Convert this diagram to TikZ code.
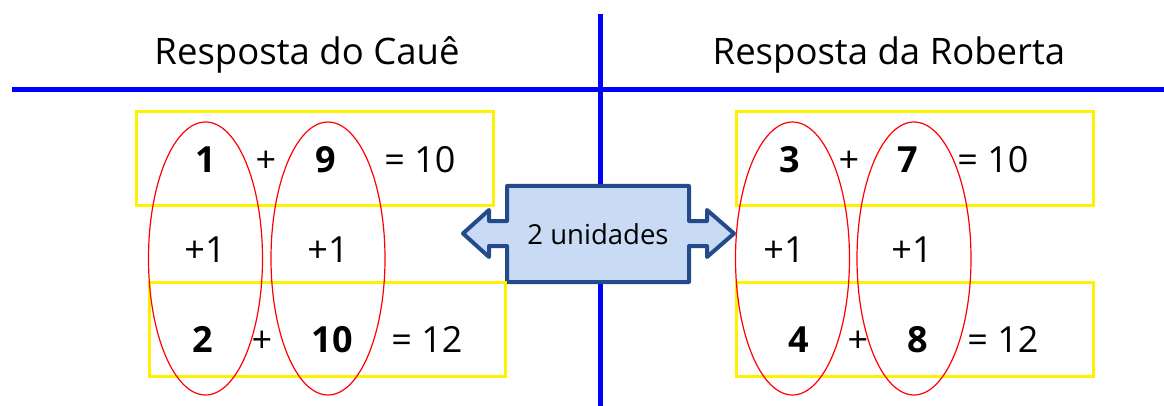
\documentclass[tikz,border=0pt]{standalone}
\usepackage{fontspec}
\setmainfont{Open Sans}
\usetikzlibrary{shapes.geometric}
\definecolor{calloutfill}{RGB}{201,218,245}
\definecolor{calloutedge}{RGB}{35,75,140}

\begin{document}
\begin{tikzpicture}[x=1pt, y=-1pt,
    title/.style={font=\fontsize{36.5}{42}\selectfont, anchor=base, inner sep=0pt},
    num/.style={font=\fontsize{36}{40}\selectfont\bfseries, anchor=base, inner sep=0pt},
    op/.style={font=\fontsize{36}{40}\selectfont, anchor=base, inner sep=0pt},
    sumbox/.style={draw=yellow, line width=3pt, minimum width=357pt, minimum height=94pt, inner sep=0pt},
    oval/.style={ellipse, draw=red, line width=1.2pt, minimum width=114pt, minimum height=273pt, inner sep=0pt},
    axis/.style={draw=blue, line width=5pt},
  ]
    \useasboundingbox (0,0) rectangle (1164,406);
    % dividing lines
    \coordinate (hl) at (12,90);   \coordinate (hr) at (1164,90);
    \coordinate (vt) at (600,14);  \coordinate (vb) at (600,406);
    \draw[axis] (hl) -- (hr);
    \draw[axis] (vt) -- (vb);
    \node[title] (tC) at (307,65) {Resposta do Cauê};
    \node[title] (tR) at (889,65) {Resposta da Roberta};
    % double arrow callout in the middle
    \draw[calloutedge, fill=calloutfill, line width=4pt, line join=round]
      (507,186) -- (689,186) -- (689,221) -- (707,221) -- (707,210) -- (734,233.5)
      -- (707,257) -- (707,246) -- (689,246) -- (689,282) -- (507,282) -- (507,246)
      -- (489,246) -- (489,257) -- (463,233.5) -- (489,210) -- (489,221) -- (507,221) -- cycle;
    \node[op, font=\fontsize{27.5}{32}\selectfont] (uni) at (598,244) {2 unidades};
    % yellow boxes round each sum
    \node[sumbox] (bC1) at (314.5,159) {};
    \node[sumbox, minimum width=356pt] (bC2) at (327,329) {};
    \node[sumbox] (bR1) at (914.5,159) {};
    \node[sumbox] (bR2) at (914.5,329) {};
    % red ovals round each column
    \node[oval] (oC1) at (205.5,258.5) {};
    \node[oval] (oC2) at (328,258.5) {};
    \node[oval] (oR1) at (792.5,258.5) {};
    \node[oval] (oR2) at (914,258.5) {};
    % Caue
    \node[num] (c1) at (206,173) {1};
    \node[op]  (c2) at (266,173) {+};
    \node[num] (c3) at (326,173) {9};
    \node[op]  (c4) at (420,173) {= 10};
    \node[op]  (c5) at (205,262) {+1};
    \node[op]  (c6) at (328,262) {+1};
    \node[num] (c7) at (203,352) {2};
    \node[op]  (c8) at (262,352) {+};
    \node[num] (c9) at (332,352) {10};
    \node[op]  (c10) at (427,352) {= 12};
    % Roberta
    \node[num] (r1) at (790,173) {3};
    \node[op]  (r2) at (849,173) {+};
    \node[num] (r3) at (908,173) {7};
    \node[op]  (r4) at (993,173) {= 10};
    \node[op]  (r5) at (784,262) {+1};
    \node[op]  (r6) at (912,262) {+1};
    \node[num] (r7) at (799,352) {4};
    \node[op]  (r8) at (858,352) {+};
    \node[num] (r9) at (918,352) {8};
    \node[op]  (r10) at (1003,352) {= 12};
  \end{tikzpicture}
\end{document}
